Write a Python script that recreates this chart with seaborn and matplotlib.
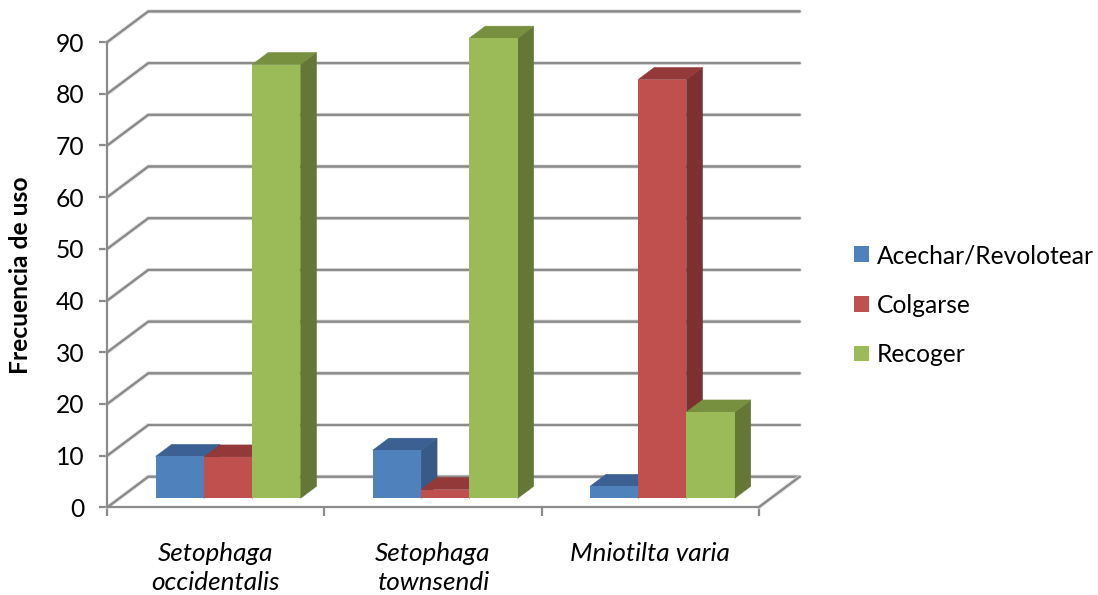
import matplotlib
matplotlib.use("Agg")
import matplotlib.pyplot as plt
import matplotlib.patheffects as pe
from matplotlib.patches import Polygon
import pandas as pd
import seaborn as sns

# Foraging manoeuvre use per warbler species
species = ["Setophaga\noccidentalis", "Setophaga\ntownsendi", "Mniotilta varia"]
acechar = [8.1, 9.3, 2.3]
colgarse = [8.0, 1.7, 81.0]
recoger = [83.9, 89.0, 16.7]
maneuvers = ["Acechar/Revolotear", "Colgarse", "Recoger"]
y_ticks = list(range(0, 100, 10))

front_colors = ["#4f81bd", "#c0504d", "#9bbb59"]
top_colors = ["#3b6091", "#93393a", "#77903f"]
side_colors = ["#375a87", "#7c3130", "#657736"]
wall_color = "#8a8a8a"

sns.set_theme(style="white")
plt.rcParams["font.family"] = ["Lato", "DejaVu Sans"]
plt.rcParams["text.color"] = "black"
FONT = 17.7

W, H, DPI = 1098, 595, 100
left, right, y_zero, y_top = 107.3, 758.7, 507.3, 42.0
fig = plt.figure(figsize=(W / DPI, H / DPI), dpi=DPI)
ax = fig.add_axes([left / W, 1 - y_zero / H, (right - left) / W, (y_zero - y_top) / H])

table = pd.DataFrame({
    "species": species * 3,
    "maneuver": [m for m in maneuvers for _ in species],
    "value": acechar + colgarse + recoger,
})
sns.barplot(data=table, x="species", y="value", hue="maneuver", order=species,
            hue_order=maneuvers, palette=front_colors, width=0.667, gap=0,
            saturation=1, ax=ax, linewidth=0, zorder=5)
ax.set_xlim(-0.5, 2.5)
ax.set_ylim(0, 90)

# Oblique projection: pixel offsets expressed in data units
px_x = 3 / (right - left)
px_y = 90 / (y_zero - y_top)
wall_dx, wall_dy = 41 * px_x, 30.6 * px_y
bar_dx, bar_dy = 12.2 * px_x, 9 * px_y
depth_dx, depth_dy = 16 * px_x, 12 * px_y

soft = [pe.withStroke(linewidth=2.8, foreground="#dcdcdc"), pe.Normal()]

# Back wall, side wall and floor lines
for v in y_ticks:
    ax.plot([-0.5, -0.5 + wall_dx, 2.5 + wall_dx],
            [v, v + wall_dy, v + wall_dy],
            color=wall_color, lw=1.4, clip_on=False, zorder=1,
            solid_joinstyle="miter", path_effects=soft)
ax.plot([2.5, 2.5 + wall_dx], [0, wall_dy], color=wall_color, lw=1.4,
        clip_on=False, zorder=1, path_effects=soft)

# Extrude each bar: side and top faces come from the bar's own geometry
bars = [b for b in ax.patches if b.get_height() > 0]
bars.sort(key=lambda b: b.get_x())
for order, bar in enumerate(bars):
    color_index = front_colors.index(matplotlib.colors.to_hex(bar.get_facecolor()))
    bar.set_x(bar.get_x() + bar_dx)
    bar.set_y(bar_dy)
    bar.set_clip_on(False)
    bar.set_zorder(5 + order * 0.1 + 0.05)
    x0, x1 = bar.get_x(), bar.get_x() + bar.get_width()
    y0, y1 = bar_dy, bar_dy + bar.get_height()
    side_color = side_colors[color_index]
    top_color = top_colors[color_index]
    side = Polygon([(x1, y0), (x1 + depth_dx, y0 + depth_dy),
                    (x1 + depth_dx, y1 + depth_dy), (x1, y1)],
                   closed=True, fc=side_color, ec=side_color, lw=0.4,
                   clip_on=False, zorder=5 + order * 0.1)
    top = Polygon([(x0, y1), (x0 + depth_dx, y1 + depth_dy),
                   (x1 + depth_dx, y1 + depth_dy), (x1, y1)],
                  closed=True, fc=top_color, ec=top_color, lw=0.4,
                  clip_on=False, zorder=5 + order * 0.1)
    ax.add_patch(side)
    ax.add_patch(top)

# Axes frame and ticks
sns.despine(ax=ax, top=True, right=True)
for name in ("left", "bottom"):
    ax.spines[name].set_color(wall_color)
    ax.spines[name].set_linewidth(1.6)
    ax.spines[name].set_zorder(2)
ax.set_yticks(y_ticks)
ax.set_xticks([-0.5, 0.5, 1.5, 2.5], labels=[])
ax.set_xticks([0, 1, 2], labels=species, minor=True)
ax.tick_params(axis="y", which="major", left=True, length=5.8, width=1.6,
               color=wall_color, labelsize=FONT, pad=10.5, labelcolor="black")
ax.tick_params(axis="x", which="major", bottom=True, length=6.4, width=1.6,
               color=wall_color)
ax.tick_params(axis="x", which="minor", bottom=False, labelsize=18.8, pad=21,
               labelcolor="black")
for label in ax.get_xticklabels(minor=True):
    label.set_fontstyle("italic")
    label.set_linespacing(1.3)
ax.set_xlabel("")
ax.set_ylabel("")
fig.text(21 / W, 1 - 275.5 / H, "Frecuencia de uso", rotation=90, ha="center",
         va="center", fontsize=17.7, fontweight="bold", color="black")

sns.move_legend(ax, "upper left", bbox_to_anchor=(854 / W, 1 - 244 / H),
                bbox_transform=fig.transFigure, frameon=False, title=None,
                fontsize=FONT, handlelength=0.61, handleheight=0.61,
                handletextpad=0.33, labelspacing=1.08, borderpad=0, borderaxespad=0)
for text in ax.get_legend().get_texts():
    text.set_color("black")

fig.savefig("out.png", dpi=DPI, facecolor="white")
